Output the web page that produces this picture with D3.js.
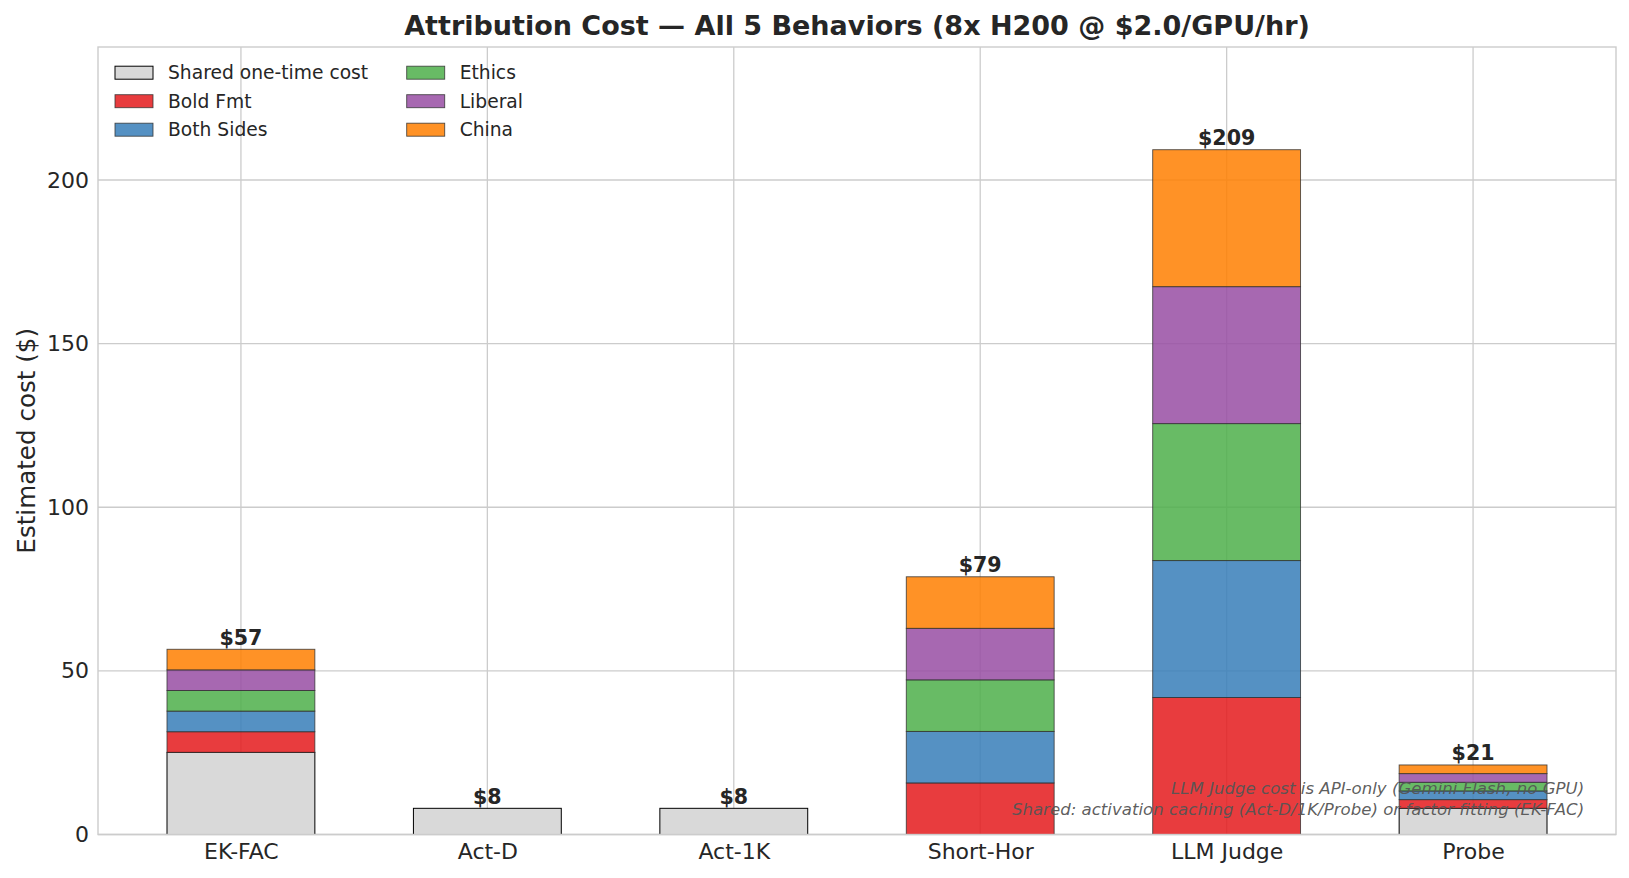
<!DOCTYPE html>
<html>
<head>
<meta charset="utf-8">
<script src="https://cdn.jsdelivr.net/npm/d3@7"></script>
<style>
  html, body { margin: 0; padding: 0; background: #fff; }
  svg { display: block; font-family: "DejaVu Sans", sans-serif; }
</style>
</head>
<body>
<svg id="chart" width="1629" height="878"></svg>
<script>
// ---- data ----
const methods = ["EK-FAC", "Act-D", "Act-1K", "Short-Hor", "LLM Judge", "Probe"];
const shared    = [25.1, 8, 8, 0, 0, 8];
const boldFmt   = [6.3, 0, 0, 15.75, 41.85, 2.65];
const bothSides = [6.3, 0, 0, 15.75, 41.85, 2.65];
const ethics    = [6.3, 0, 0, 15.75, 41.85, 2.65];
const liberal   = [6.3, 0, 0, 15.75, 41.85, 2.65];
const china     = [6.3, 0, 0, 15.75, 41.85, 2.65];
const seriesNames = ["Shared one-time cost", "Bold Fmt", "Both Sides", "Ethics", "Liberal", "China"];
const seriesColors = ["#d9d9d9", "#e41a1c", "#377eb8", "#4daf4a", "#984ea3", "#ff7f00"];
const yTicks = [0, 50, 100, 150, 200];
const titleText = "Attribution Cost \u2014 All 5 Behaviors (8x H200 @ $2.0/GPU/hr)";
const yLabelText = "Estimated cost ($)";
const noteLines = ["LLM Judge cost is API-only (Gemini Flash, no GPU)",
                   "Shared: activation caching (Act-D/1K/Probe) or factor fitting (EK-FAC)"];

const seriesValues = [shared, boldFmt, bothSides, ethics, liberal, china];
const keys = seriesNames;
const table = methods.map((m, i) => {
  const row = { method: m, idx: i };
  keys.forEach((k, j) => row[k] = seriesValues[j][i]);
  return row;
});
const totals = methods.map((m, i) => d3.sum(seriesValues, s => s[i]));

// ---- layout ----
const L = 98, R = 1616, T = 47, B = 834.5;
const svg = d3.select("#chart");
const textColor = "#262626";
const gridColor = "#cccccc";

const x = d3.scaleLinear().domain([-0.58, methods.length - 1 + 0.58]).range([L, R]);
const yMax = d3.max(totals) * 1.15;
const y = d3.scaleLinear().domain([0, yMax]).range([B, T]);
const barW = 0.6;

// grid
const grid = svg.append("g");
grid.selectAll("line.h").data(yTicks).join("line")
  .attr("x1", L).attr("x2", R)
  .attr("y1", d => y(d)).attr("y2", d => y(d))
  .attr("stroke", gridColor).attr("stroke-width", 1.3);
grid.selectAll("line.v").data(methods.map((m, i) => i)).join("line")
  .attr("x1", d => x(d)).attr("x2", d => x(d))
  .attr("y1", T).attr("y2", B)
  .attr("stroke", gridColor).attr("stroke-width", 1.3);

// stacked bars
const stack = d3.stack().keys(keys)(table);
const barsG = svg.append("g");
stack.forEach((layer, j) => {
  barsG.append("g").selectAll("rect")
    .data(layer.filter(d => d[1] - d[0] > 0))
    .join("rect")
    .attr("x", d => x(d.data.idx - barW / 2))
    .attr("width", x(barW) - x(0))
    .attr("y", d => y(d[1]))
    .attr("height", d => y(d[0]) - y(d[1]))
    .attr("fill", seriesColors[j])
    .attr("fill-opacity", j === 0 ? 1 : 0.85)
    .attr("stroke", j === 0 ? "#000" : "#333")
    .attr("stroke-opacity", j === 0 ? 1 : 0.85)
    .attr("stroke-width", j === 0 ? 1 : 0.9);
});

// total labels
svg.append("g").selectAll("text").data(totals).join("text")
  .attr("x", (d, i) => x(i))
  .attr("y", d => y(d) - 4.5)
  .attr("text-anchor", "middle")
  .attr("font-size", 20.6).attr("font-weight", "bold")
  .attr("fill", textColor)
  .text(d => "$" + d3.format(".0f")(d));

// spines
svg.append("rect").attr("x", L).attr("y", T).attr("width", R - L).attr("height", B - T)
  .attr("fill", "none").attr("stroke", gridColor).attr("stroke-width", 1.4);

// axes (no tick marks)
const yAxis = d3.axisLeft(y).tickValues(yTicks).tickSize(0).tickPadding(9);
const yg = svg.append("g").attr("transform", `translate(${L},0)`).call(yAxis);
yg.select(".domain").remove();
yg.selectAll("text").attr("font-size", 22).attr("fill", textColor)
  .attr("font-family", "DejaVu Sans");

const xAxis = d3.axisBottom(x).tickValues(methods.map((m, i) => i))
  .tickFormat(i => methods[i]).tickSize(0).tickPadding(9);
const xg = svg.append("g").attr("transform", `translate(0,${B})`).call(xAxis);
xg.select(".domain").remove();
xg.selectAll("text").attr("font-size", 22).attr("fill", textColor)
  .attr("font-family", "DejaVu Sans");

// y label
svg.append("text")
  .attr("transform", `translate(26,${(T + B) / 2}) rotate(-90)`)
  .attr("text-anchor", "middle").attr("dominant-baseline", "central")
  .attr("font-size", 24.6).attr("fill", textColor)
  .text(yLabelText);

// title
svg.append("text")
  .attr("x", (L + R) / 2).attr("y", 35)
  .attr("text-anchor", "middle")
  .attr("font-size", 27).attr("font-weight", "bold").attr("fill", textColor)
  .text(titleText);

// note
const noteX = L + 0.98 * (R - L) - 1.5;
svg.append("g").selectAll("text").data(noteLines).join("text")
  .attr("x", noteX)
  .attr("y", (d, i) => 794 + i * 20.5)
  .attr("text-anchor", "end")
  .attr("font-size", 16.6).attr("font-style", "italic")
  .attr("fill", "#555555").attr("fill-opacity", 0.95)
  .text(d => d);

// legend (2 columns, 3 rows)
const legend = svg.append("g");
const colX = [115, 406.7];
const rowY = [72.7, 101.2, 129.7];
seriesNames.forEach((name, j) => {
  const col = Math.floor(j / 3), row = j % 3;
  const g = legend.append("g");
  g.append("rect")
    .attr("x", colX[col]).attr("y", rowY[row] - 6.5)
    .attr("width", 38).attr("height", 13)
    .attr("fill", seriesColors[j])
    .attr("fill-opacity", j === 0 ? 1 : 0.85)
    .attr("stroke", j === 0 ? "#000" : "#333")
    .attr("stroke-opacity", j === 0 ? 1 : 0.85)
    .attr("stroke-width", j === 0 ? 1 : 0.9);
  g.append("text")
    .attr("x", colX[col] + 53).attr("y", rowY[row])
    .attr("dominant-baseline", "central")
    .attr("font-size", 18.7).attr("fill", textColor)
    .text(name);
});
</script>
</body>
</html>
